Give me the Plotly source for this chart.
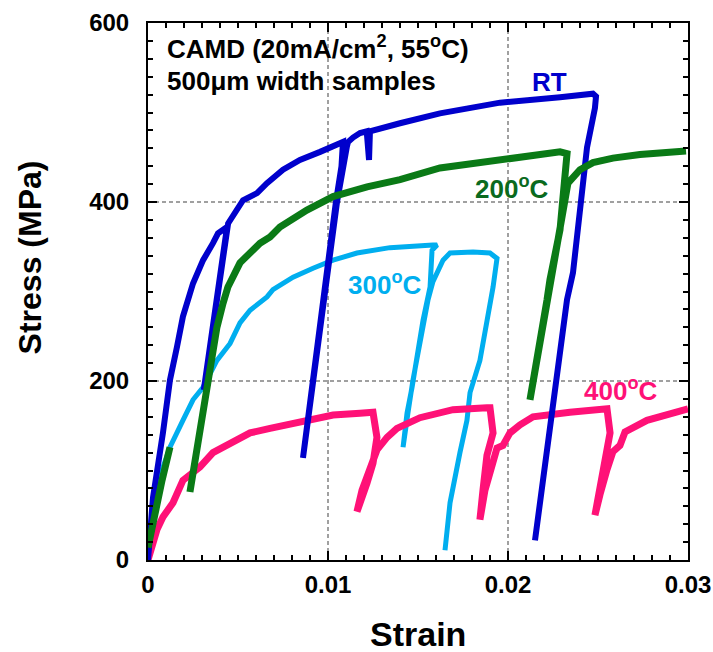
import plotly.graph_objects as go

# Stress-strain records of CAMD electroplated samples with load/unload cycles
rt_strain = [0, 0.00028, 0.00083, 0.00122, 0.00161, 0.00194, 0.0025, 0.00306, 0.00361, 0.00389, 0.00439,
             0.0038, 0.0033, 0.0031, 0.0033, 0.0039, 0.00445,
             0.00483, 0.00528, 0.00606, 0.00661, 0.0075, 0.00844, 0.00956, 0.01083,
             0.01075, 0.01044, 0.0098, 0.0092, 0.00861,
             0.0092, 0.0099, 0.0105, 0.01105, 0.01111, 0.01139, 0.01178, 0.01215, 0.0122, 0.01228, 0.01233,
             0.0125, 0.014, 0.01622, 0.01956, 0.02289, 0.02472, 0.02489,
             0.02483, 0.02439, 0.024, 0.02361, 0.02328, 0.0225, 0.0215]
rt_stress = [0, 70, 142, 201, 238, 272, 309, 335, 354, 365, 372,
             285, 215, 190, 215, 300, 376,
             388, 402, 410, 421, 436, 447, 456, 467,
             440, 400, 300, 210, 114,
             212, 310, 400, 462, 467, 472, 477, 479, 447, 447, 479,
             480, 488, 499, 511, 517, 521, 518,
             505, 461, 388, 321, 291, 168, 22]

t200_strain = [0, 0.00039, 0.00078, 0.00122, None,
               0.00233, 0.00272, 0.00306, 0.00328, 0.00383, 0.00417, 0.00444, 0.00511, 0.00583, 0.00622,
               0.00678, 0.00733, 0.00883, 0.01028, 0.01217, 0.014, 0.01622, 0.01994, 0.02289, 0.02328,
               0.02317, 0.02289, 0.02233, 0.02217, 0.02122,
               0.02217, 0.02278, 0.02311, 0.02333, 0.024, 0.02472, 0.02583, 0.02733, 0.02989]
t200_stress = [14, 56, 89, 126, None,
               76, 123, 171, 201, 260, 287, 305, 332, 346, 354,
               361, 372, 391, 406, 417, 425, 438, 449, 456, 454,
               425, 369, 313, 291, 179,
               293, 360, 405, 421, 436, 444, 449, 453, 457]

t300_strain = [0, 0.00022, 0.0006, 0.00122, 0.00194, 0.0025, 0.00306, 0.00383, 0.00456, 0.00511, 0.00567,
               0.00661, 0.00694, 0.00806, 0.00917, 0.01028, 0.01161, 0.01344, 0.01583, 0.01606,
               0.01578, 0.01567, 0.01528, 0.01494, 0.01467, 0.01439, 0.01417,
               0.01444, 0.01472, 0.01511, 0.01556, 0.01583, 0.01611, 0.01639, 0.01678, 0.01806, 0.019, 0.01939,
               0.01917, 0.01883, 0.01844, 0.01789, 0.01772, 0.01733, 0.01678, 0.0165]
t300_stress = [0, 45, 90, 126, 156, 179, 193, 223, 242, 265, 279,
               294, 302, 316, 326, 335, 343, 349, 352, 352,
               346, 305, 268, 223, 193, 164, 126,
               164, 201, 246, 291, 311, 322, 335, 343, 344, 343, 337,
               305, 268, 223, 187, 156, 120, 64, 11]

t400_strain = [0, 0.00028, 0.0005, 0.00083, 0.00139, 0.00194, 0.00289, 0.00361, 0.00456, 0.00567, 0.00678,
               0.00883, 0.01028, 0.01178, 0.0125,
               0.01272, 0.0125, 0.01217, 0.01161,
               0.01189, 0.01233, 0.01272, 0.01328, 0.01383, 0.01511, 0.01694, 0.01883, 0.019,
               0.01917, 0.01883, 0.01861, 0.01844,
               0.01872, 0.019, 0.01939, 0.01972, 0.02011, 0.02067, 0.02139, 0.02344, 0.02528, 0.0255,
               0.02567, 0.02539, 0.02511, 0.02483,
               0.02511, 0.0255, 0.02583, 0.02622, 0.0265, 0.02772, 0.02956, 0.03]
t400_stress = [0, 22, 34, 48, 64, 89, 104, 120, 131, 142, 147,
               156, 162, 164, 165,
               137, 108, 86, 54,
               78, 101, 123, 137, 147, 159, 168, 170, 170,
               142, 117, 78, 45,
               78, 101, 125, 128, 142, 151, 160, 165, 170, 169,
               142, 112, 78, 50,
               73, 101, 121, 128, 143, 156, 168, 169]

series_names = ["300°C", "400°C", "RT", "200°C"]
series_colors = ["#00aeef", "#ff1177", "#0000cc", "#0a7a16"]
series_widths = [5, 7, 6, 7]
series_data = [(t300_strain, t300_stress), (t400_strain, t400_stress),
               (rt_strain, rt_stress), (t200_strain, t200_stress)]

FONT = "Liberation Sans"

fig = go.Figure()
for name, color, width, (xs, ys) in zip(series_names, series_colors, series_widths, series_data):
    fig.add_trace(go.Scatter(x=xs, y=ys, mode="lines", name=name, connectgaps=False,
                             line=dict(color=color, width=width, shape="linear")))

axis_common = dict(
    ticks="inside", ticklen=9, tickwidth=2, tickcolor="black",
    showline=True, linecolor="black", linewidth=2, mirror="allticks",
    showgrid=True, gridcolor="#a0a0a0", gridwidth=1.5, griddash="4px,3px",
    zeroline=False, automargin=False,
    tickfont=dict(family=FONT, size=24, color="black", weight="bold"),
)

fig.update_xaxes(range=[0, 0.03], tick0=0, dtick=0.01, ticklabelstandoff=2,
                 minor=dict(dtick=0.001, ticks="inside", ticklen=5, tickwidth=2,
                            tickcolor="black", showgrid=False),
                 **axis_common)
fig.update_yaxes(range=[0, 600], tick0=0, dtick=200, ticklabelstandoff=12,
                 minor=dict(dtick=20, ticks="inside", ticklen=5, tickwidth=2,
                            tickcolor="black", showgrid=False),
                 **axis_common)

label_font = dict(family=FONT, size=26, weight="bold")
annotations = [
    dict(x=0.00094, y=573, text="CAMD (20mA/cm<sup>2</sup>, 55<sup>o</sup>C)",
         xanchor="left", yanchor="middle", font=dict(label_font, color="black")),
    dict(x=0.00094, y=535, text="500μm width samples",
         xanchor="left", yanchor="middle", font=dict(label_font, color="black")),
    dict(x=0.02233, y=534, text="RT", font=dict(label_font, color="#0000cc")),
    dict(x=0.02022, y=416, text="200<sup>o</sup>C", font=dict(label_font, color="#0a6a1e")),
    dict(x=0.01317, y=309, text="300<sup>o</sup>C", font=dict(label_font, color="#00aeef")),
    dict(x=0.02628, y=190, text="400<sup>o</sup>C", font=dict(label_font, color="#ff1177")),
    dict(x=-0.218, y=0.564, xref="paper", yref="paper", text="Stress (MPa)", textangle=-90,
         font=dict(family=FONT, size=32, weight="bold", color="black")),
    dict(x=0.5, y=-0.137, xref="paper", yref="paper", text="Strain",
         font=dict(family=FONT, size=34, weight="bold", color="black")),
]
for a in annotations:
    a.setdefault("showarrow", False)
    a.setdefault("xanchor", "center")
    a.setdefault("yanchor", "middle")
fig.update_layout(
    width=713, height=652,
    margin=dict(l=148, r=25, t=23, b=92, autoexpand=False),
    plot_bgcolor="white", paper_bgcolor="white",
    showlegend=False,
    annotations=annotations,
)

fig.write_html("out.html")
